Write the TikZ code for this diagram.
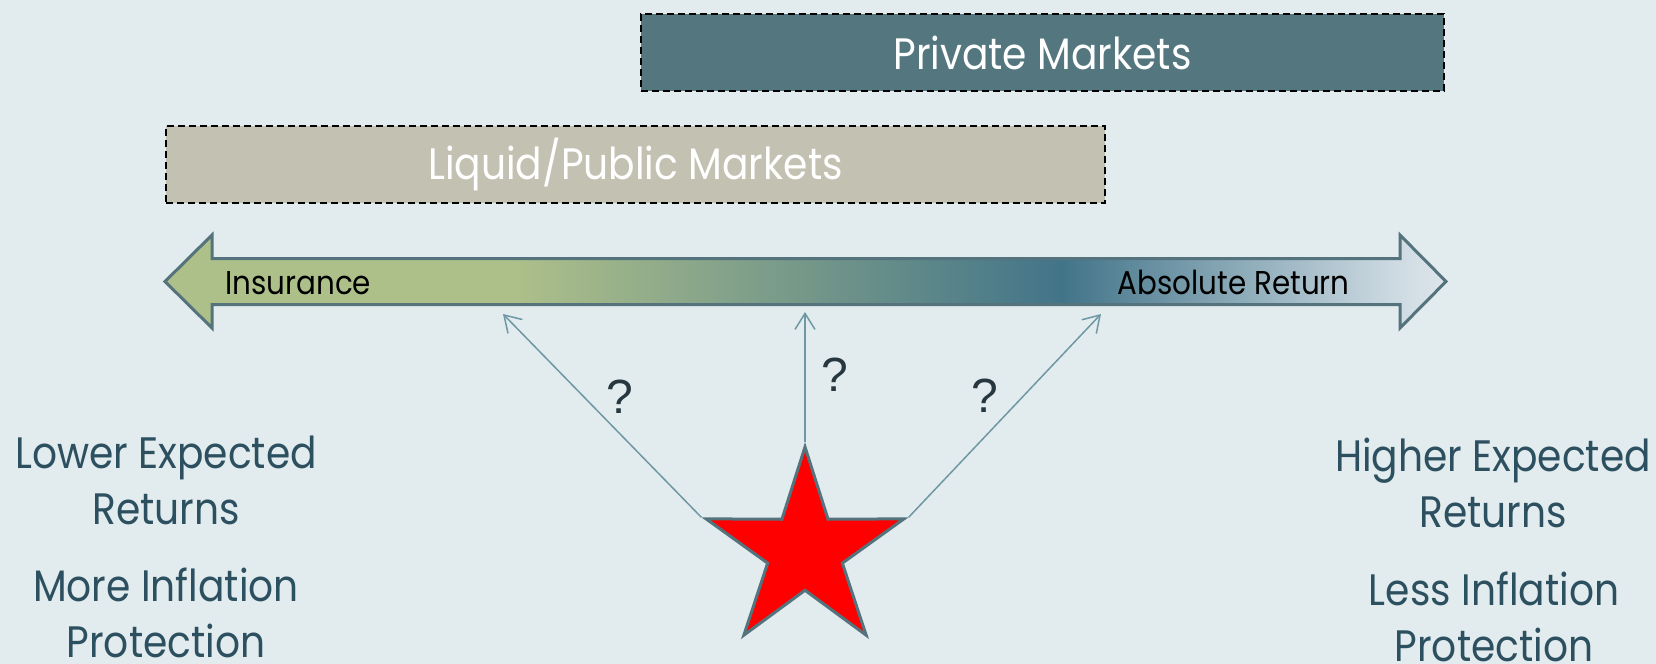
\documentclass[tikz,border=0pt]{standalone}
\usepackage{fontspec}
\setmainfont{Poppins}[FakeStretch=0.89]
\newfontfamily\qfont{Liberation Sans}
\usetikzlibrary{arrows.meta,shapes.geometric}

\definecolor{bgblue}{RGB}{226,235,237}
\definecolor{privfill}{RGB}{83,118,127}
\definecolor{liqfill}{RGB}{195,194,178}
\definecolor{rimgray}{RGB}{85,115,124}
\definecolor{linkblue}{RGB}{110,152,164}
\definecolor{labtext}{RGB}{44,80,96}
\definecolor{askgray}{RGB}{38,55,64}
\definecolor{spG}{RGB}{174,192,138}
\definecolor{spT}{RGB}{66,116,137}
\definecolor{spL}{RGB}{205,218,226}
\definecolor{spW}{RGB}{222,229,235}

\pgfdeclarehorizontalshading{spectrum}{100bp}{color(0bp)=(spG); color(38.5bp)=(spG); color(60bp)=(spT); color(73bp)=(spL); color(75bp)=(spW); color(100bp)=(spW)}

\begin{document}
\begin{tikzpicture}[x=0.5pt,y=-0.5pt,
    market/.style={draw=black,line width=1pt,dash pattern=on 3.5pt off 2pt,text=white,
      font=\fontsize{22}{26}\selectfont,inner sep=0pt,minimum height=38.5pt},
    gain/.style={text=labtext,font=\fontsize{22}{28}\selectfont,align=center,anchor=base},
    tag/.style={text=black,font=\fontsize{16.5}{20}\selectfont,inner sep=0pt},
    link/.style={draw=linkblue,line width=0.75pt,-{Straight Barb[length=8pt,width=10pt]}},
    ask/.style={text=askgray,font=\qfont\fontsize{24}{28}\selectfont}]
  \fill[bgblue] (0,0) rectangle (1656,664);
  \useasboundingbox (0,0) rectangle (1656,664);

  \node[market,fill=privfill,minimum width=401.5pt] (priv) at (1042.5,52.5) {Private Markets};
  \node[market,fill=liqfill,minimum width=469.5pt] (liq) at (635.5,164.5) {Liquid/Public Markets};

  % spectrum arrow
  \path[draw=rimgray,line width=1.5pt,shading=spectrum]
    (165,281.5) -- (212,235) -- (212,258.5) -- (1400,258.5) -- (1400,235) -- (1446,281.5)
    -- (1400,328) -- (1400,304.5) -- (212,304.5) -- (212,328) -- cycle;
  \node[tag,anchor=base west] (ins) at (225,294) {Insurance};
  \node[tag,anchor=base east] (absret) at (1350,294) {Absolute Return};

  \coordinate (aimL) at (503,314);
  \coordinate (aimM) at (805,312);
  \coordinate (aimR) at (1101,314);

  \node[star,star points=5,star point ratio=2.65,minimum size=104pt,inner sep=0pt,
    fill=red,draw=rimgray,line width=1.5pt] (pick) at (805,551) {};

  \draw[link] (pick.outer point 2) -- (aimL);
  \draw[link] (pick.outer point 1) -- (aimM);
  \draw[link] (pick.outer point 5) -- (aimR);

  \node[ask] (qL) at (620,397) {?};
  \node[ask] (qM) at (835,375) {?};
  \node[ask] (qR) at (985,396) {?};

  % anchor=base sits on the last line
  \node[gain] (lowret) at (166,524) {Lower Expected\\Returns};
  \node[gain] (moreinf) at (166,657) {More Inflation\\Protection};
  \node[gain] (highret) at (1493,527) {Higher Expected\\Returns};
  \node[gain] (lessinf) at (1494,661) {Less Inflation\\Protection};
\end{tikzpicture}
\end{document}
